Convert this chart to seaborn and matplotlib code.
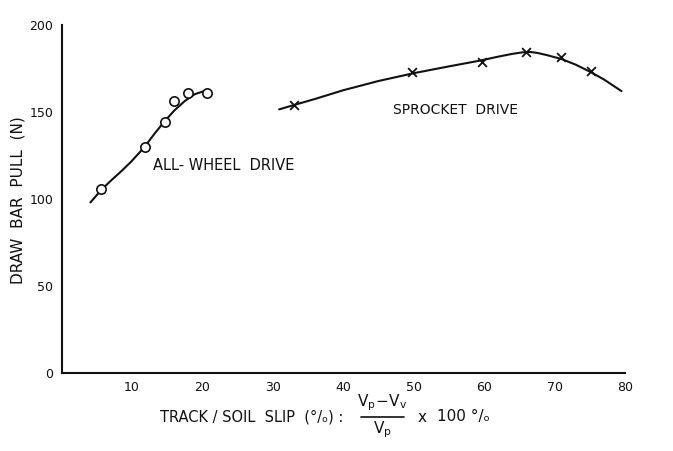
import matplotlib
matplotlib.use("Agg")
import matplotlib.pyplot as plt
import seaborn as sns
import pandas as pd
from matplotlib.lines import Line2D

# ---- data ----
awd_slip = [5.6, 11.8, 14.7, 16.0, 18.0, 20.6]
awd_pull = [105.5, 130, 144, 156.5, 161, 161]
awd_curve_x = [4.1, 5.6, 7.0, 8.5, 9.9, 11.7, 13.2, 14.6, 16.0, 17.5, 18.9, 20.1, 20.8]
awd_curve_y = [98.0, 105.0, 110.5, 116.0, 121.5, 129.5, 137.5, 144.5, 150.8, 156.3, 160.2, 161.8, 161.8]

spr_slip = [33.0, 49.8, 59.7, 65.9, 70.9, 75.1]
spr_pull = [154, 173, 179, 184.5, 181.5, 173.5]
spr_curve_x = [30.9, 33, 36, 40, 45, 50, 55, 59.5, 62, 64, 65.5, 66.5, 67.5, 69, 71, 73, 75, 77, 79.5]
spr_curve_y = [151.5, 154, 157.5, 162.5, 167.8, 172.3, 176.2, 179.6, 181.8, 183.4, 184.3, 184.5,
               184.0, 182.6, 180.4, 177.2, 173.2, 168.7, 162.0]

x_ticks = [10, 20, 30, 40, 50, 60, 70, 80]
y_ticks = [0, 50, 100, 150, 200]

sns.set_style("white")
plt.rcParams['font.family'] = ['DejaVu Sans']

fig = plt.figure(figsize=(6.73, 4.51), dpi=100)
ax = fig.add_axes([0.0914, 0.173, 0.8373, 0.7716])

ink = "#111111"
awd_c = pd.DataFrame({"x": awd_curve_x, "y": awd_curve_y})
spr_c = pd.DataFrame({"x": spr_curve_x, "y": spr_curve_y})
sns.lineplot(data=awd_c, x="x", y="y", ax=ax, color=ink, lw=1.5, sort=False, estimator=None)
sns.lineplot(data=spr_c, x="x", y="y", ax=ax, color=ink, lw=1.5, sort=False, estimator=None)

sns.scatterplot(x=awd_slip, y=awd_pull, ax=ax, marker="o", s=45,
                facecolor="white", edgecolor=ink, linewidth=1.2, zorder=5)
sns.scatterplot(x=spr_slip, y=spr_pull, ax=ax, marker="x", s=40,
                color=ink, linewidth=1.3, zorder=5)

ax.set_xlim(0, 80)
ax.set_ylim(0, 200)
ax.set_xticks(x_ticks)
ax.set_yticks(y_ticks)
ax.set_xticklabels([str(t) for t in x_ticks], fontsize=9)
ax.set_yticklabels([str(t) for t in y_ticks], fontsize=9)
ax.tick_params(direction="in", length=5, width=1.2, colors=ink, pad=6)
for s in ["top", "right"]:
    ax.spines[s].set_visible(False)
for s in ["left", "bottom"]:
    ax.spines[s].set_linewidth(1.5)
    ax.spines[s].set_color(ink)
ax.set_xlabel("")
ax.set_ylabel("")

ax.text(13.0, 119, "ALL- WHEEL  DRIVE", fontsize=10.5, color=ink, va="center", ha="left")
ax.text(47.0, 151, "SPROCKET  DRIVE", fontsize=10, color=ink, va="center", ha="left")

W, H = 673, 451
def fx(px): return px / W
def fy(py): return 1 - py / H

fig.text(fx(18), fy(200), "DRAW  BAR  PULL  (N)", fontsize=11, color=ink, va="center", ha="center",
         rotation=90)
fig.text(fx(160), fy(417), "TRACK / SOIL  SLIP  (°/ₒ) :", fontsize=10.5, color=ink, va="center", ha="left")
fig.text(fx(382), fy(403), r"$\mathregular{V_p\!-\!V_v}$", fontsize=11, color=ink, va="center", ha="center")
fig.add_artist(Line2D([fx(361), fx(404)], [fy(417), fy(417)], color=ink, lw=1.2, transform=fig.transFigure))
fig.text(fx(382), fy(430), r"$\mathregular{V_p}$", fontsize=11, color=ink, va="center", ha="center")
fig.text(fx(422), fy(418), "x", fontsize=11, color=ink, va="center", ha="center")
fig.text(fx(437), fy(417), "100 °/ₒ", fontsize=11, color=ink, va="center", ha="left")

fig.savefig("out.png", dpi=100, facecolor="white")
